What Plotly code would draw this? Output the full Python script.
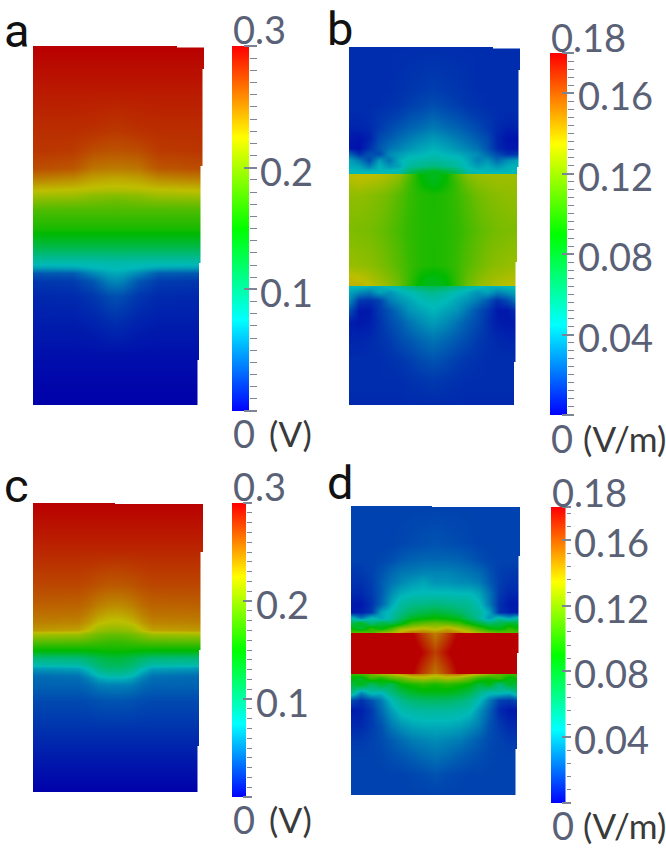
import plotly.graph_objects as go

W, H = 666, 849

# ---------- field samples ----------
a_x = [0, 40, 60, 75, 82, 90, 105, 125, 171]
a_y = [0, 44, 84, 104, 122, 132, 141, 145, 149, 155, 164, 182, 199, 212, 217, 222, 227, 235, 250, 275, 310, 340, 359]
a_z = [
 [.300,.300,.300,.300,.300,.300,.300,.300,.300],
 [.290,.290,.290,.290,.290,.290,.290,.290,.290],
 [.282,.282,.281,.279,.278,.279,.281,.282,.282],
 [.279,.277,.270,.268,.268,.268,.270,.277,.279],
 [.270,.266,.254,.252,.252,.252,.254,.266,.270],
 [.252,.246,.237,.235,.234,.235,.237,.246,.252],
 [.232,.229,.225,.224,.223,.224,.225,.229,.232],
 [.224,.221,.217,.216,.216,.216,.217,.221,.224],
 [.214,.212,.205,.203,.202,.203,.205,.212,.214],
 [.200,.198,.195,.193,.192,.193,.195,.198,.200],
 [.180,.180,.180,.180,.180,.180,.180,.180,.180],
 [.160,.160,.160,.160,.160,.160,.160,.160,.160],
 [.125,.125,.125,.125,.125,.125,.125,.125,.125],
 [.090,.090,.090,.091,.091,.091,.090,.090,.090],
 [.080,.080,.080,.080,.080,.080,.080,.080,.080],
 [.062,.064,.072,.076,.077,.076,.072,.064,.062],
 [.035,.037,.055,.066,.068,.066,.055,.037,.035],
 [.022,.024,.035,.052,.055,.052,.035,.024,.022],
 [.016,.017,.022,.030,.032,.030,.022,.017,.016],
 [.012,.012,.014,.018,.019,.018,.014,.012,.012],
 [.006,.006,.006,.006,.006,.006,.006,.006,.006],
 [.002,.002,.002,.002,.002,.002,.002,.002,.002],
 [.000,.000,.000,.000,.000,.000,.000,.000,.000],
]

b_x = [0, 10, 20, 30, 40, 50, 60, 72, 84, 96, 108, 118, 128, 138, 148, 158, 171]
b_y = [0, 43, 58, 71, 81, 91, 101, 107, 113, 119, 124, 126.5, 127, 136, 148, 183, 218, 230, 237.5, 239, 245, 253, 263, 275, 293, 313, 333, 358]
b_z = [
 [.011,.011,.011,.011,.011,.011,.011,.011,.011,.011,.011,.011,.011,.011,.011,.011,.011],
 [.011,.011,.011,.011,.011,.012,.013,.014,.015,.014,.013,.012,.011,.011,.011,.011,.011],
 [.011,.011,.011,.011,.012,.013,.015,.017,.019,.017,.015,.013,.012,.011,.011,.011,.011],
 [.010,.010,.011,.013,.015,.017,.020,.022,.025,.022,.020,.017,.015,.013,.011,.010,.010],
 [.009,.009,.010,.014,.018,.021,.024,.027,.030,.027,.024,.021,.018,.014,.010,.008,.008],
 [.006,.005,.008,.018,.022,.026,.030,.034,.037,.034,.030,.026,.022,.018,.009,.005,.004],
 [.005,.004,.012,.021,.028,.032,.036,.040,.043,.040,.036,.032,.028,.020,.010,.006,.005],
 [.025,.012,.020,.018,.034,.038,.042,.044,.047,.044,.042,.038,.034,.026,.018,.012,.014],
 [.040,.030,.018,.038,.028,.042,.048,.050,.052,.050,.048,.042,.032,.036,.026,.034,.040],
 [.042,.040,.030,.044,.036,.040,.052,.056,.060,.056,.052,.044,.038,.042,.036,.042,.044],
 [.046,.044,.044,.044,.046,.048,.066,.078,.082,.078,.066,.050,.046,.044,.044,.044,.046],
 [.046,.046,.046,.046,.047,.050,.070,.082,.086,.082,.070,.052,.047,.046,.046,.046,.046],
 [.134,.136,.136,.134,.130,.124,.110,.088,.082,.088,.110,.122,.126,.128,.128,.128,.128],
 [.130,.132,.130,.128,.124,.118,.105,.092,.084,.092,.105,.116,.122,.124,.126,.126,.126],
 [.124,.124,.122,.120,.116,.110,.103,.098,.096,.098,.103,.110,.116,.120,.122,.124,.124],
 [.120,.119,.118,.115,.111,.106,.101,.098,.097,.098,.101,.106,.111,.115,.118,.119,.120],
 [.126,.125,.123,.120,.115,.110,.103,.098,.096,.098,.103,.110,.115,.120,.123,.125,.126],
 [.136,.134,.130,.125,.120,.113,.103,.090,.086,.090,.103,.113,.120,.125,.128,.130,.132],
 [.138,.138,.135,.130,.124,.116,.102,.086,.082,.086,.102,.116,.124,.128,.132,.134,.136],
 [.046,.046,.044,.042,.048,.052,.058,.066,.070,.066,.058,.052,.048,.044,.044,.046,.046],
 [.040,.034,.030,.040,.036,.042,.046,.052,.056,.052,.046,.042,.036,.040,.032,.036,.042],
 [.034,.014,.012,.016,.030,.036,.040,.046,.048,.046,.040,.036,.030,.022,.012,.018,.034],
 [.020,.006,.006,.014,.020,.028,.036,.040,.044,.040,.036,.028,.020,.014,.006,.006,.014],
 [.007,.006,.007,.012,.018,.022,.028,.034,.038,.034,.028,.022,.018,.012,.007,.006,.006],
 [.009,.009,.010,.012,.014,.018,.021,.025,.028,.025,.021,.018,.014,.012,.010,.009,.009],
 [.011,.011,.011,.011,.012,.013,.015,.018,.020,.018,.015,.013,.012,.011,.011,.011,.011],
 [.011,.011,.011,.011,.011,.011,.012,.013,.014,.013,.012,.011,.011,.011,.011,.011,.011],
 [.010,.010,.010,.010,.010,.010,.010,.010,.010,.010,.010,.010,.010,.010,.010,.010,.010],
]

c_x = [0, 45, 55, 65, 75, 82, 89, 99, 109, 119, 170]
c_y = [0, 47, 82, 102, 112, 119, 127, 131, 137, 147, 155, 162, 165, 172, 175, 182, 197, 227, 257, 289]
c_z = [
 [.300,.300,.300,.300,.300,.300,.300,.300,.300,.300,.300],
 [.285,.285,.285,.285,.285,.285,.285,.285,.285,.285,.285],
 [.272,.272,.270,.267,.265,.265,.265,.267,.270,.272,.272],
 [.262,.261,.257,.250,.246,.245,.246,.250,.257,.261,.262],
 [.255,.254,.248,.238,.233,.232,.233,.238,.248,.254,.255],
 [.250,.248,.240,.228,.223,.222,.223,.228,.240,.248,.250],
 [.240,.236,.225,.210,.206,.205,.206,.210,.225,.236,.240],
 [.215,.212,.203,.195,.191,.190,.191,.195,.203,.212,.215],
 [.190,.189,.185,.180,.176,.175,.176,.180,.185,.189,.190],
 [.150,.150,.151,.153,.155,.155,.155,.153,.151,.150,.150],
 [.100,.102,.108,.118,.124,.125,.124,.118,.108,.102,.100],
 [.080,.082,.092,.105,.112,.113,.112,.105,.092,.082,.080],
 [.062,.066,.078,.096,.104,.105,.104,.096,.078,.066,.062],
 [.045,.048,.060,.078,.085,.085,.085,.078,.060,.048,.045],
 [.042,.044,.052,.066,.072,.072,.072,.066,.052,.044,.042],
 [.040,.040,.043,.050,.052,.052,.052,.050,.043,.040,.040],
 [.030,.030,.031,.033,.034,.034,.034,.033,.031,.030,.030],
 [.020,.020,.020,.020,.020,.020,.020,.020,.020,.020,.020],
 [.010,.010,.010,.010,.010,.010,.010,.010,.010,.010,.010],
 [.000,.000,.000,.000,.000,.000,.000,.000,.000,.000,.000],
]

d_x = [0, 10, 20, 30, 40, 50, 60, 72, 84, 96, 108, 118, 128, 138, 148, 158, 169]
d_y = [0, 37, 54, 66, 76, 87, 98, 106, 112, 117, 122, 126, 127, 146, 166.5, 167.5, 172, 178, 186, 194, 204, 219, 234, 249, 269, 289]
d_z = [
 [.016,.016,.016,.016,.016,.016,.016,.016,.016,.016,.016,.016,.016,.016,.016,.016,.016],
 [.016,.016,.016,.016,.016,.017,.018,.019,.020,.019,.018,.017,.016,.016,.016,.016,.016],
 [.016,.016,.016,.017,.019,.022,.024,.025,.025,.025,.024,.022,.019,.017,.016,.016,.016],
 [.013,.014,.016,.020,.025,.029,.030,.032,.032,.032,.030,.028,.026,.020,.015,.014,.013],
 [.012,.012,.015,.022,.028,.033,.037,.040,.036,.036,.034,.033,.030,.022,.015,.012,.012],
 [.010,.010,.014,.022,.034,.042,.045,.046,.046,.046,.045,.045,.040,.028,.014,.010,.009],
 [.006,.006,.012,.024,.040,.052,.056,.058,.060,.058,.056,.054,.046,.030,.012,.006,.006],
 [.006,.008,.014,.040,.048,.058,.066,.072,.076,.072,.066,.058,.052,.040,.012,.008,.006],
 [.050,.030,.048,.040,.050,.066,.082,.088,.092,.088,.082,.066,.052,.036,.052,.040,.055],
 [.070,.085,.060,.075,.070,.085,.105,.112,.116,.112,.105,.090,.075,.065,.070,.080,.075],
 [.090,.075,.100,.085,.105,.125,.130,.136,.130,.140,.130,.120,.105,.090,.085,.100,.090],
 [.105,.110,.105,.120,.125,.140,.150,.150,.145,.150,.145,.135,.125,.115,.110,.110,.105],
 [.190,.190,.190,.190,.190,.190,.182,.165,.150,.165,.182,.190,.190,.190,.190,.190,.190],
 [.190,.190,.190,.190,.190,.190,.190,.178,.165,.178,.190,.190,.190,.190,.190,.190,.190],
 [.190,.190,.190,.190,.190,.190,.182,.165,.152,.165,.182,.190,.190,.190,.190,.190,.190],
 [.100,.105,.115,.125,.130,.140,.150,.148,.140,.148,.150,.140,.130,.120,.110,.105,.100],
 [.090,.080,.105,.095,.110,.115,.125,.130,.125,.130,.125,.115,.100,.095,.105,.085,.095],
 [.075,.085,.065,.080,.070,.090,.095,.100,.095,.100,.095,.090,.075,.085,.060,.080,.075],
 [.060,.035,.050,.045,.060,.072,.080,.085,.085,.085,.080,.072,.058,.048,.050,.045,.065],
 [.018,.012,.020,.030,.046,.056,.062,.065,.066,.065,.062,.056,.046,.030,.016,.014,.020],
 [.006,.008,.014,.026,.038,.048,.050,.052,.052,.052,.050,.048,.036,.024,.010,.006,.006],
 [.010,.010,.014,.020,.030,.036,.040,.042,.042,.042,.040,.036,.030,.020,.014,.010,.010],
 [.014,.014,.016,.018,.022,.026,.030,.032,.034,.032,.030,.026,.022,.018,.016,.014,.014],
 [.016,.016,.016,.017,.019,.021,.023,.026,.028,.026,.023,.021,.019,.017,.016,.016,.016],
 [.016,.016,.016,.016,.016,.016,.017,.018,.020,.018,.017,.016,.016,.016,.016,.016,.016],
 [.016,.016,.016,.016,.016,.016,.016,.016,.016,.016,.016,.016,.016,.016,.016,.016,.016],
]

panel_letters = ["a", "b", "c", "d"]
voltage_ticks = [0.2, 0.1]
voltage_tick_text = ["0.2", "0.1"]
field_ticks = [0.16, 0.12, 0.08, 0.04]
field_tick_text = ["0.16", "0.12", "0.08", "0.04"]

# ---------- styles ----------
BRIGHT = [[0, "rgb(0,0,255)"], [.25, "rgb(0,255,255)"], [.5, "rgb(0,255,0)"],
          [.75, "rgb(255,255,0)"], [1, "rgb(255,0,0)"]]
DARK = [[0, "rgb(0,0,170)"], [.25, "rgb(0,185,185)"], [.5, "rgb(0,185,0)"],
        [.75, "rgb(190,190,0)"], [1, "rgb(185,0,0)"]]
LABEL = "#5a6176"
TICK = "#7d8496"
FONT = "Lato"

panels = [
    dict(letter=panel_letters[0], x=a_x, y=a_y, z=a_z, box=(33, 204, 46, 405), zmax=.3, unit="(V)",
         bar=(232, 249, 46, 411), major_x=243, minor_end=255.6, step=.01,
         ticks=voltage_ticks, text=voltage_tick_text, top="0.3", lab_x=259, unit_x=268,
         top_y=17, bot_y=-22, mid=-3, letter_x=3, letter_y=30,
         steps=[(177, 204, 45, 47.5), (202.5, 204, 69, 166), (200.5, 204, 166, 263), (199, 204, 263, 360), (197.5, 204, 360, 406)]),
    dict(letter=panel_letters[1], x=b_x, y=b_y, z=b_z, box=(349, 520, 47, 405), zmax=.18, unit="(V/m)",
         bar=(550, 567, 53, 415), major_x=561.3, minor_end=573, step=.004,
         ticks=field_ticks, text=field_tick_text, top="0.18", lab_x=577, unit_x=582,
         top_y=16, bot_y=-23, mid=-2, letter_x=326, letter_y=28,
         steps=[(493, 520, 46, 48.5), (518.5, 520, 70, 167), (517, 520, 167, 262), (515.5, 520, 262, 362), (514, 520, 362, 406)]),
    dict(letter=panel_letters[2], x=c_x, y=c_y, z=c_z, box=(33, 203, 503, 792), zmax=.3, unit="(V)",
         bar=(232, 246, 503, 797), major_x=241.7, minor_end=250.7, step=.01,
         ticks=voltage_ticks, text=voltage_tick_text, top="0.3", lab_x=255, unit_x=268,
         top_y=17, bot_y=-22, mid=-3, letter_x=3, letter_y=486,
         steps=[(115, 203, 502, 504), (200.5, 203, 552, 650), (199, 203, 650, 746), (197.5, 203, 746, 793)]),
    dict(letter=panel_letters[3], x=d_x, y=d_y, z=d_z, box=(351, 520, 506, 795), zmax=.18, unit="(V/m)",
         bar=(551, 565.5, 507, 803), major_x=561, minor_end=569.7, step=.008,
         ticks=field_ticks, text=field_tick_text, top="0.18", lab_x=573, unit_x=582,
         top_y=15, bot_y=-22, mid=-2, letter_x=326, letter_y=482,
         steps=[(432, 520, 505, 507), (518.5, 520, 556, 653), (517, 520, 653, 749), (515.5, 520, 749, 796)]),
]

fig = go.Figure()
layout = {}
annotations = []
shapes = []

def px(v): return v / W
def py(v): return 1 - v / H

n = 0
for p in panels:
    # field
    n += 1
    x0, x1, y0, y1 = p["box"]
    fig.add_trace(go.Heatmap(x=p["x"], y=p["y"], z=p["z"], zmin=0, zmax=p["zmax"], colorscale=DARK,
                             zsmooth="best", showscale=False, hoverinfo="skip",
                             xaxis=f"x{n}", yaxis=f"y{n}"))
    layout[f"xaxis{n}"] = dict(domain=[px(x0), px(x1)], range=[0, x1 - x0], visible=False, anchor=f"y{n}")
    layout[f"yaxis{n}"] = dict(domain=[py(y1), py(y0)], range=[y1 - y0, 0], visible=False, anchor=f"x{n}")

    # colour bar ramp with short ticks
    n += 1
    b0, b1, t0, t1 = p["bar"]
    fig.add_trace(go.Heatmap(x=[0, 1], y=[0, p["zmax"]], z=[[0, 0], [p["zmax"], p["zmax"]]], zmin=0, zmax=p["zmax"],
                             colorscale=BRIGHT, zsmooth="best", showscale=False, hoverinfo="skip",
                             xaxis=f"x{n}", yaxis=f"y{n}"))
    layout[f"xaxis{n}"] = dict(domain=[px(b0), px(b1)], range=[0, 1], visible=False, anchor=f"y{n}")
    layout[f"yaxis{n}"] = dict(domain=[py(t1), py(t0)], range=[0, p["zmax"]], anchor=f"x{n}", side="right",
                               showgrid=False, zeroline=False, showline=False, showticklabels=False,
                               ticks="outside", ticklen=p["minor_end"] - b1, tickwidth=1, tickcolor=TICK,
                               tickmode="linear", tick0=0, dtick=p["step"])
    bar_y = f"y{n}"
    bar_x = f"x{n}"

    # long ticks at the labelled values
    n += 1
    fig.add_trace(go.Scatter(x=[0], y=[0], mode="markers", marker=dict(opacity=0, size=1), hoverinfo="skip",
                             showlegend=False, xaxis=bar_x, yaxis=f"y{n}"))
    layout[f"yaxis{n}"] = dict(domain=[py(t1), py(t0)], range=[0, p["zmax"]], overlaying=bar_y, anchor="free",
                               position=px(p["major_x"]), side="right",
                               showgrid=False, zeroline=False, showline=False, showticklabels=False,
                               ticks="outside", ticklen=p["minor_end"] - p["major_x"], tickwidth=1.5, tickcolor=TICK,
                               tickmode="array", tickvals=[0] + p["ticks"] + [p["zmax"]])

    lab = dict(family=FONT, size=38, color=LABEL, weight=400)
    for v, t in zip(p["ticks"], p["text"]):
        annotations.append(dict(text=t, xref="paper", x=px(p["lab_x"]), xanchor="left", yref=bar_y, y=v,
                                yanchor="middle", yshift=p["mid"], showarrow=False, font=lab, borderpad=0))
    annotations.append(dict(text=p["top"], xref="paper", x=px(b0), xanchor="left", yref=bar_y, y=p["zmax"],
                            yanchor="middle", yshift=p["top_y"], showarrow=False, font=lab, borderpad=0))
    annotations.append(dict(text="0", xref="paper", x=px(b0), xanchor="left", yref=bar_y, y=0,
                            yanchor="middle", yshift=p["bot_y"], showarrow=False, font=lab, borderpad=0))
    annotations.append(dict(text=p["unit"], xref="paper", x=px(p["unit_x"]), xanchor="left", yref=bar_y, y=0,
                            yanchor="middle", yshift=p["bot_y"], showarrow=False, borderpad=0,
                            font=dict(family=FONT, size=35, color="#3a3a3a", weight=400)))
    annotations.append(dict(text=p["letter"], xref="paper", x=px(p["letter_x"]), xanchor="left",
                            yref="paper", y=py(p["letter_y"]), yanchor="middle", showarrow=False, borderpad=0,
                            font=dict(family="Roboto", size=47, color="#111111")))
    for sx0, sx1, sy0, sy1 in p["steps"]:
        shapes.append(dict(type="rect", xref="paper", yref="paper", x0=px(sx0), x1=px(sx1), y0=py(sy1), y1=py(sy0),
                           fillcolor="white", line=dict(width=0), layer="above"))

fig.update_layout(width=W, height=H, margin=dict(l=0, r=0, t=0, b=0), paper_bgcolor="white", plot_bgcolor="white",
                  showlegend=False, annotations=annotations, shapes=shapes, **layout)
fig.write_html("out.html", config={"displayModeBar": False},
               post_script="document.body.style.margin='0';document.body.style.overflow='hidden';")
